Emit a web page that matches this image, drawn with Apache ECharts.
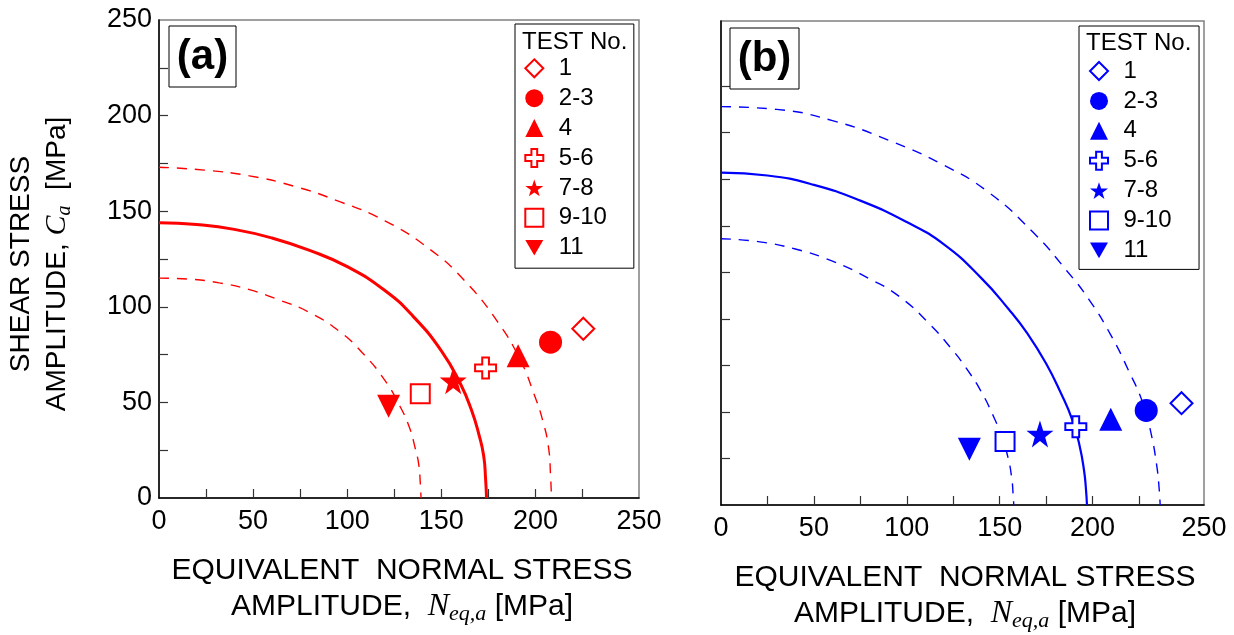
<!DOCTYPE html>
<html>
<head>
<meta charset="utf-8">
<script src="https://cdn.jsdelivr.net/npm/echarts@6/dist/echarts.min.js"></script>
<style>
html,body{margin:0;padding:0;background:#fff;}
#chart{width:1234px;height:635px;}
</style>
</head>
<body>
<div id="chart"></div>
<script>
// ---------- data ----------
const testLabels = ['1', '2-3', '4', '5-6', '7-8', '9-10', '11'];

// panel (a)
const aNeq = [225.4, 208.0, 190.8, 173.5, 156.3, 138.8, 122.0];
const aCa  = [88.5, 81.5, 74.4, 68.0, 61.3, 54.5, 48.0];
// panel (b)
const bNeq = [247.9, 228.9, 209.8, 191.0, 171.7, 152.9, 133.7];
const bCa  = [54.7, 50.8, 46.1, 42.1, 38.2, 34.1, 30.0];

// curves, [Neq, Ca]
const aSolid = [[0,144],[20,143],[40,140.5],[60,136],[80,129.5],[100,121],[120,108.5],[135,95],[150,77],[160,60],[166,46],[170,33],[172.5,22],[173.5,10],[174,0]];
const aUpper = [[0,173],[24,171.5],[48,168.5],[72,163],[96,155],[120,145],[144,130],[162,114],[180,92],[192,72],[199,55],[204,40],[207,26],[208,12],[208.5,0]];
const aLower = [[0,115],[16,114.5],[32,112.5],[48,109],[64,103.5],[80,97],[96,87],[108,76],[120,61.5],[128,48],[133,37],[136,26.5],[138,17.5],[138.8,8],[139.2,0]];

const bSolid = [[0,178.5],[25,177],[50,172],[75,163.5],[100,152],[120,140],[140,122],[155,105],[165,92],[175,76],[183,60],[189,46],[193,32],[195.5,18],[196.5,8],[197,0]];
const bUpper = [[0,214],[30,212.5],[60,206.5],[90,196],[120,182.5],[144,168],[168,146.5],[186,126],[198,110.5],[210,91],[219.5,72],[227,55],[231.5,38.5],[234.5,21.5],[235.8,9.5],[236.4,0]];
const bLower = [[0,143],[20,141.5],[40,137.5],[60,131],[80,121.5],[96,112],[112,97.5],[124,84],[132,73.5],[140,61],[146.5,48],[151,37],[154.5,25.5],[156.5,14.5],[157.2,6.5],[157.6,0]];

// axis ticks / labels
const aXMax = 255, aYMax = 250, bXMax = 260, bYMax = 260;
const minorTicks = [25, 50, 75, 100, 125, 150, 175, 200, 225];
const aXLabelValues = [0, 50, 100, 150, 200, 255];
const aYLabelValues = [0, 50, 100, 150, 200, 250];
const bXLabelValues = [0, 50, 100, 150, 200, 260];
const xLabelTexts = ['0', '50', '100', '150', '200', '250'];

// ---------- styles ----------
const RED = '#ff0000', BLUE = '#0000ff';
const SANS = 'Liberation Sans';
const SERIF = 'Liberation Serif';
const STAR = 'path://M50,0 L61.8,35.1 L98.9,35.1 L68.8,57.4 L79.4,91.9 L50,70.5 L20.6,91.9 L31.2,57.4 L1.1,35.1 L38.2,35.1 Z';
const PLUS = 'path://M34,0 L66,0 L66,34 L100,34 L100,66 L66,66 L66,100 L34,100 L34,66 L0,66 L0,34 L34,34 Z';
const TRI_DOWN = 'path://M0,0 L100,0 L50,86.6 Z';
const symbols = [
  {symbol: 'diamond', size: 22, hollow: true},
  {symbol: 'circle', size: 23, hollow: false},
  {symbol: 'triangle', size: 23, hollow: false},
  {symbol: PLUS, size: 21, hollow: true},
  {symbol: STAR, size: 27, hollow: false},
  {symbol: 'rect', size: 19, hollow: true},
  {symbol: TRI_DOWN, size: 23, hollow: false}
];

function markerSeries(prefix, xs, ys, color, idx) {
  return testLabels.map((lab, i) => {
    const s = symbols[i];
    return {
      name: prefix + lab,
      type: 'scatter',
      xAxisIndex: idx, yAxisIndex: idx,
      symbol: s.symbol,
      symbolSize: s.size,
      z: 5,
      itemStyle: s.hollow
        ? {color: '#fff', borderColor: color, borderWidth: 2, opacity: 1}
        : {color: color, borderColor: color, borderWidth: 0, opacity: 1},
      emphasis: {disabled: true},
      data: [[xs[i], ys[i]]]
    };
  });
}
function curve(data, color, idx, dashed, width) {
  return {
    type: 'line', xAxisIndex: idx, yAxisIndex: idx,
    data: data, showSymbol: false, symbol: 'none', smooth: 0.5, z: 3,
    silent: true,
    lineStyle: {color: color, width: width, type: dashed ? [10, 8] : 'solid', opacity: 1}
  };
}

function xAxis(idx, max, labelVals) {
  return {
    type: 'value', gridIndex: idx, min: 0, max: max,
    axisLine: {show: true, lineStyle: {color: '#000', width: 1.5}},
    axisTick: {show: true, inside: true, length: 9, customValues: minorTicks, lineStyle: {color: '#333', width: 1.2}},
    axisLabel: {show: true, customValues: labelVals, margin: 10, fontFamily: SANS, fontSize: 27, color: '#000',
      formatter: v => xLabelTexts[labelVals.indexOf(v)] ?? ''},
    splitLine: {show: false}
  };
}
function yAxis(idx, max, labelVals, showLabels) {
  return {
    type: 'value', gridIndex: idx, min: 0, max: max,
    axisLine: {show: true, lineStyle: {color: '#000', width: 1.5}},
    axisTick: {show: true, inside: true, length: 9, customValues: minorTicks, lineStyle: {color: '#333', width: 1.2}},
    axisLabel: {show: showLabels, customValues: labelVals, margin: 7, fontFamily: SANS, fontSize: 27, color: '#000',
      formatter: v => String(v)},
    splitLine: {show: false}
  };
}

function legend(prefix, left, top, pad) {
  return {
    orient: 'vertical', left: left, top: top,
    padding: pad,
    backgroundColor: '#fff', borderColor: '#000', borderWidth: 1,
    itemWidth: 18, itemHeight: 18, itemGap: 5.9,
    selectedMode: false,
    data: testLabels.map(l => prefix + l),
    formatter: name => '{t|' + name.slice(prefix.length) + '}',
    textStyle: {fontFamily: SANS, fontSize: 24, color: '#000',
      rich: {t: {fontFamily: SANS, fontSize: 24, lineHeight: 24, color: '#000', padding: [0, 0, 0, 10.5]}}}
  };
}

function axisTitleRich(fs) {
  return {
    n: {fontFamily: SANS, fontSize: fs, lineHeight: 36, color: '#000'},
    i: {fontFamily: SERIF, fontStyle: 'italic', fontSize: fs + 2, lineHeight: 36, color: '#000'},
    s: {fontFamily: SERIF, fontStyle: 'italic', fontSize: Math.round(fs * 0.72), lineHeight: 18, verticalAlign: 'bottom', color: '#000'}
  };
}
function titleText(x, y, text, rot, fs) {
  return {
    type: 'text', x: x, y: y, rotation: rot || 0, z: 10,
    style: {text: text, fontFamily: SANS, fontSize: fs, lineHeight: 36, fill: '#000',
      align: 'center', verticalAlign: 'middle', rich: axisTitleRich(fs)}
  };
}

const option = {
  backgroundColor: '#fff',
  animation: false,
  grid: [
    {left: 159, top: 20, width: 480, height: 478, show: true, borderColor: '#808080', borderWidth: 1.5, backgroundColor: 'transparent'},
    {left: 721, top: 21, width: 483, height: 484, show: true, borderColor: '#808080', borderWidth: 1.5, backgroundColor: 'transparent'}
  ],
  xAxis: [xAxis(0, aXMax, aXLabelValues), xAxis(1, bXMax, bXLabelValues)],
  yAxis: [yAxis(0, aYMax, aYLabelValues, true), yAxis(1, bYMax, [], false)],
  legend: [
    legend('a', 515, 24, [32.3, 27, 8.5, 9.3]),
    legend('b', 1079, 26, [33, 27.5, 7, 10])
  ],
  series: [
    curve(aUpper, RED, 0, true, 1.4),
    curve(aLower, RED, 0, true, 1.4),
    curve(aSolid, RED, 0, false, 3),
    curve(bUpper, BLUE, 1, true, 1.4),
    curve(bLower, BLUE, 1, true, 1.4),
    curve(bSolid, BLUE, 1, false, 2.2),
    ...markerSeries('a', aNeq, aCa, RED, 0),
    ...markerSeries('b', bNeq, bCa, BLUE, 1)
  ],
  graphic: [
    {type: 'rect', shape: {x: 169, y: 26, width: 67, height: 61}, style: {fill: '#fff', stroke: '#000', lineWidth: 1}, z: 10},
    {type: 'text', x: 202.5, y: 57, z: 11, style: {text: '(a)', fontFamily: SANS, fontWeight: 'bold', fontSize: 42, fill: '#000', align: 'center', verticalAlign: 'middle'}},
    {type: 'rect', shape: {x: 730, y: 28, width: 69, height: 61}, style: {fill: '#fff', stroke: '#000', lineWidth: 1}, z: 10},
    {type: 'text', x: 764.5, y: 59, z: 11, style: {text: '(b)', fontFamily: SANS, fontWeight: 'bold', fontSize: 42, fill: '#000', align: 'center', verticalAlign: 'middle'}},
    {type: 'text', x: 522, y: 42, z: 11, style: {text: 'TEST No.', fontFamily: SANS, fontSize: 24, fill: '#000', align: 'left', verticalAlign: 'middle'}},
    {type: 'text', x: 1086, y: 43, z: 11, style: {text: 'TEST No.', fontFamily: SANS, fontSize: 24, fill: '#000', align: 'left', verticalAlign: 'middle'}},
    titleText(39, 264, '{n|SHEAR STRESS}\n{n|AMPLITUDE, }{i|C}{s|a}{n|  [MPa]}', Math.PI / 2, 28),
    titleText(402, 589, '{n|EQUIVALENT  NORMAL STRESS}\n{n|AMPLITUDE,  }{i|N}{s|eq,a}{n| [MPa]}', 0, 30),
    titleText(965, 596, '{n|EQUIVALENT  NORMAL STRESS}\n{n|AMPLITUDE,  }{i|N}{s|eq,a}{n| [MPa]}', 0, 30)
  ]
};

const chart = echarts.init(document.getElementById('chart'), null, {renderer: 'canvas'});
chart.setOption(option);
</script>
</body>
</html>
